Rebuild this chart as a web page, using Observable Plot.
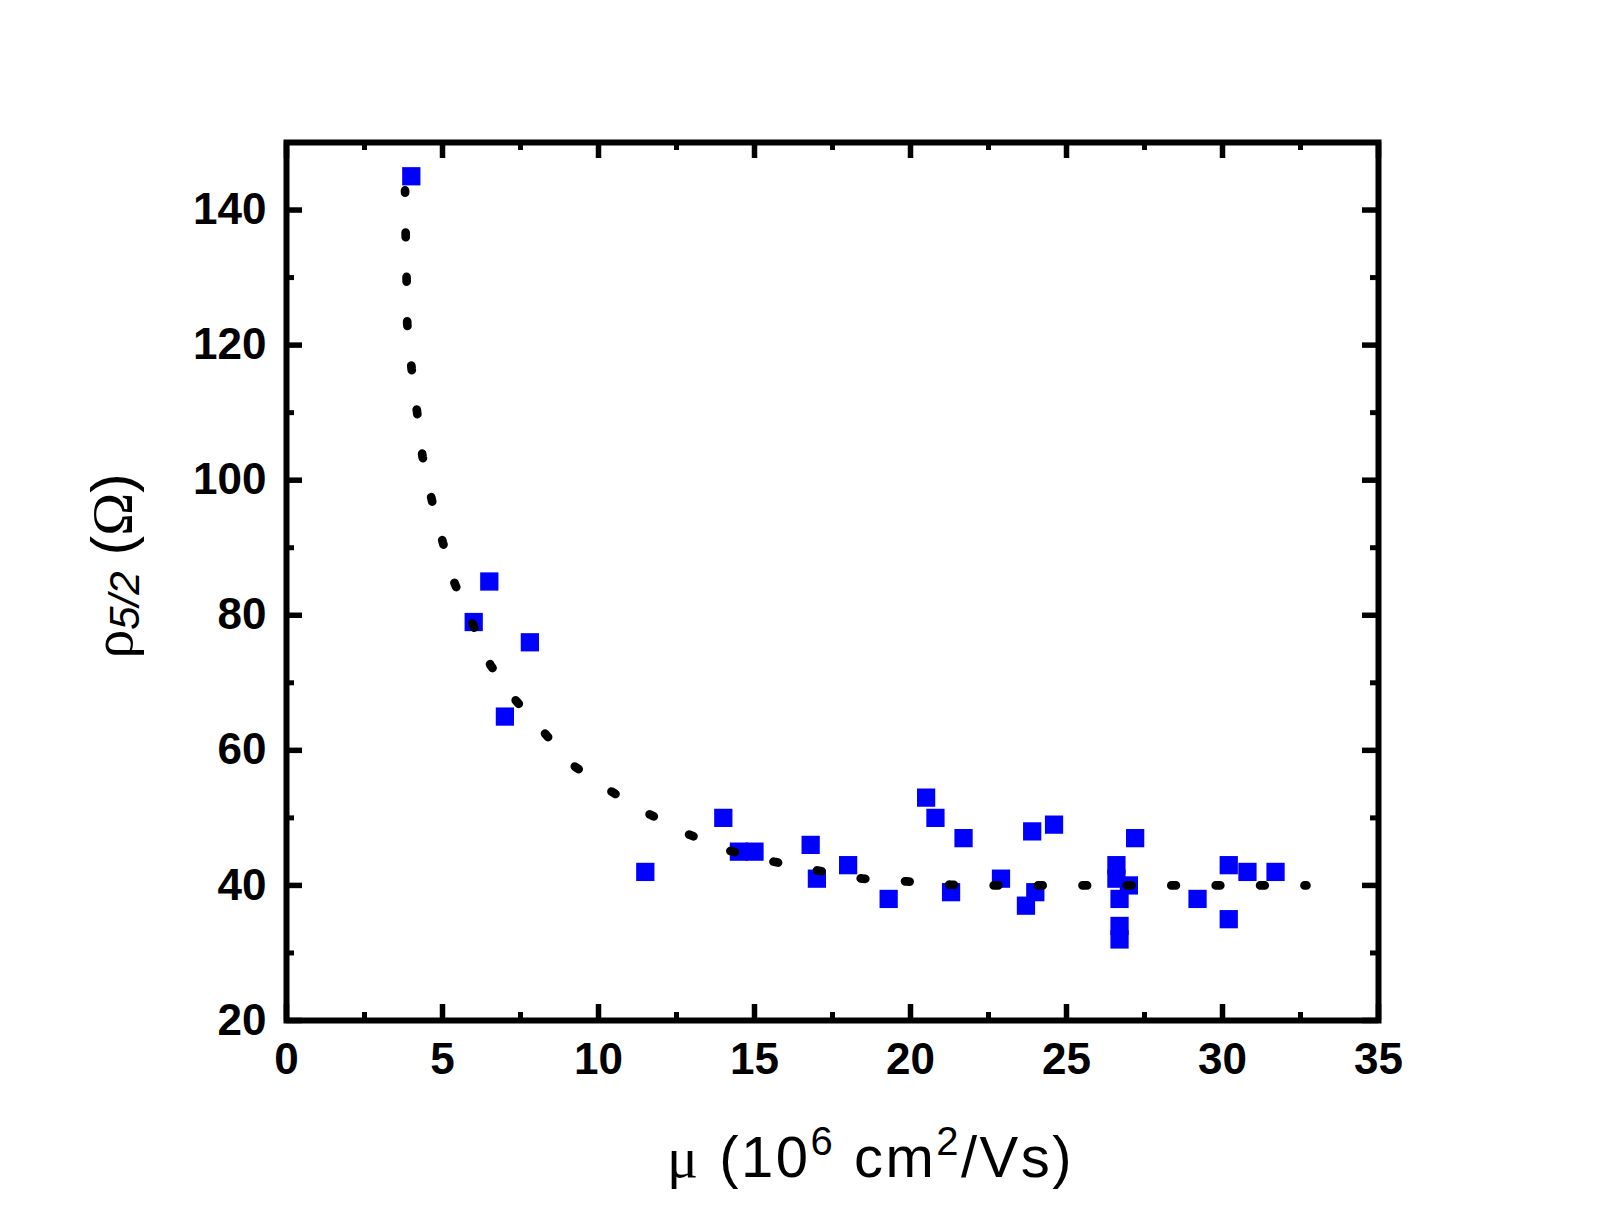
<!DOCTYPE html>
<html><head><meta charset="utf-8">
<script src="https://cdn.jsdelivr.net/npm/d3@7"></script>
<script src="https://cdn.jsdelivr.net/npm/@observablehq/plot@0.6"></script>
<style>html,body{margin:0;padding:0;background:#fff}#chart svg{display:block}</style>
</head><body><div id="chart"></div>
<script>
// Measured points: mobility (10^6 cm^2/Vs) and rho_5/2 (Ohm)
const mu  = [4.0, 6.0, 6.5, 7.0, 7.8, 11.5, 14.0, 14.5, 15.0, 16.8, 17.0, 18.0, 19.3, 20.5, 20.8, 21.7, 21.3, 22.9, 23.7, 24.0, 23.9, 24.6, 26.6, 26.6, 26.7, 26.7, 26.7, 27.0, 27.2, 29.2, 30.2, 30.2, 30.8, 31.7];
const rho = [145, 79, 85, 65, 76, 42, 50, 45, 45, 46, 41, 43, 38, 53, 50, 47, 39, 41, 37, 39, 48, 49, 43, 41, 38, 34, 32, 40, 47, 38, 43, 35, 42, 42];

// Dotted guide curve
const fitMu  = [3.80, 3.82, 3.85, 3.87, 4.01, 4.19, 4.36, 4.66, 5.01, 5.39, 5.97, 6.54, 7.31, 8.26, 9.21, 10.38, 11.61, 12.92, 14.23, 15.63, 17.03, 18.46, 19.86, 21.29, 22.71, 24.14, 25.56, 27.0, 28.42, 29.84, 31.27, 32.69];
const fitRho = [142.9, 136.3, 129.7, 123.1, 116.5, 109.9, 103.5, 97.0, 90.8, 84.7, 78.7, 72.6, 67.6, 62.6, 57.7, 54.0, 50.6, 47.5, 45.1, 43.5, 42.2, 41.0, 40.6, 40.1, 40.0, 40.0, 40.0, 40.0, 40.0, 40.0, 40.0, 40.0];

// Tick values
const xMajor = [0, 5, 10, 15, 20, 25, 30, 35];
const xMinor = [2.5, 7.5, 12.5, 17.5, 22.5, 27.5, 32.5];
const yMajor = [20, 40, 60, 80, 100, 120, 140];
const yMinor = [30, 50, 70, 90, 110, 130];

const W = 1600, H = 1225, mL = 286, mR = 222, mT = 142, mB = 205;
const pw = W - mL - mR, ph = H - mT - mB;

const points = mu.map((m, i) => ({mu: m, rho: rho[i]}));
const fit = fitMu.map((m, i) => ({mu: m, rho: fitRho[i]}));

const chart = Plot.plot({
  width: W, height: H,
  marginLeft: mL, marginRight: mR, marginTop: mT, marginBottom: mB,
  style: {fontFamily: "'Liberation Sans', Arial, sans-serif", fontSize: "44px", fontWeight: "bold", color: "#000", background: "#fff", overflow: "visible"},
  x: {domain: [0, 35]},
  y: {domain: [20, 150]},
  marks: [
    Plot.dot(points, {x: "mu", y: "rho", symbol: "square", r: 10.3, fill: "#0000ff", stroke: "none"}),
    Plot.line(fit, {x: "mu", y: "rho", stroke: "#000", strokeWidth: 8.7, strokeLinecap: "round", strokeDasharray: "4.6 39.8", strokeDashoffset: 2.3}),
    Plot.ruleX(xMajor, {insetTop: ph - 16, stroke: "#000", strokeWidth: 5.5}),
    Plot.ruleX(xMajor, {insetBottom: ph - 16, stroke: "#000", strokeWidth: 5.5}),
    Plot.ruleX(xMinor, {insetTop: ph - 8, stroke: "#000", strokeWidth: 5}),
    Plot.ruleX(xMinor, {insetBottom: ph - 8, stroke: "#000", strokeWidth: 5}),
    Plot.ruleY(yMajor, {insetRight: pw - 16, stroke: "#000", strokeWidth: 5.5}),
    Plot.ruleY(yMajor, {insetLeft: pw - 16, stroke: "#000", strokeWidth: 5.5}),
    Plot.ruleY(yMinor, {insetRight: pw - 8, stroke: "#000", strokeWidth: 5}),
    Plot.ruleY(yMinor, {insetLeft: pw - 8, stroke: "#000", strokeWidth: 5}),
    Plot.frame({stroke: "#000", strokeWidth: 6}),
    Plot.axisX(xMajor, {tickSize: 0, tickPadding: 22, label: null, fontSize: 44, fontWeight: "bold"}),
    Plot.axisY(yMajor, {tickSize: 0, tickPadding: 20, label: null, fontSize: 44, fontWeight: "bold"})
  ]
});

document.getElementById("chart").appendChild(chart);

const svg = d3.select(chart);
// X axis title
const xt = svg.append("text")
  .attr("x", 667).attr("y", 1177)
  .attr("text-anchor", "start")
  .attr("font-family", "'Liberation Sans', Arial, sans-serif")
  .attr("font-size", 58).attr("font-weight", "normal").attr("fill", "#000")
  .attr("letter-spacing", 2.5);
xt.append("tspan").attr("font-family", "'Liberation Serif', serif").text("μ");
xt.append("tspan").text(" (10");
xt.append("tspan").attr("font-size", 40).attr("dy", -22).text("6");
xt.append("tspan").attr("dy", 22).text(" cm");
xt.append("tspan").attr("font-size", 40).attr("dy", -22).text("2");
xt.append("tspan").attr("dy", 22).text("/Vs)");

// Y axis title
const yt = svg.append("text")
  .attr("transform", "translate(132,566) rotate(-90)")
  .attr("text-anchor", "middle")
  .attr("font-family", "'Liberation Sans', Arial, sans-serif")
  .attr("font-size", 58).attr("font-weight", "normal").attr("fill", "#000");
yt.append("tspan").attr("font-family", "'Liberation Serif', serif").text("ρ");
yt.append("tspan").attr("font-size", 42).attr("font-style", "italic").attr("dy", 7).text("5/2");
yt.append("tspan").attr("dy", -7).text(" (");
yt.append("tspan").attr("font-family", "'Liberation Serif', serif").text("Ω");
yt.append("tspan").text(")");
</script>
</body></html>
